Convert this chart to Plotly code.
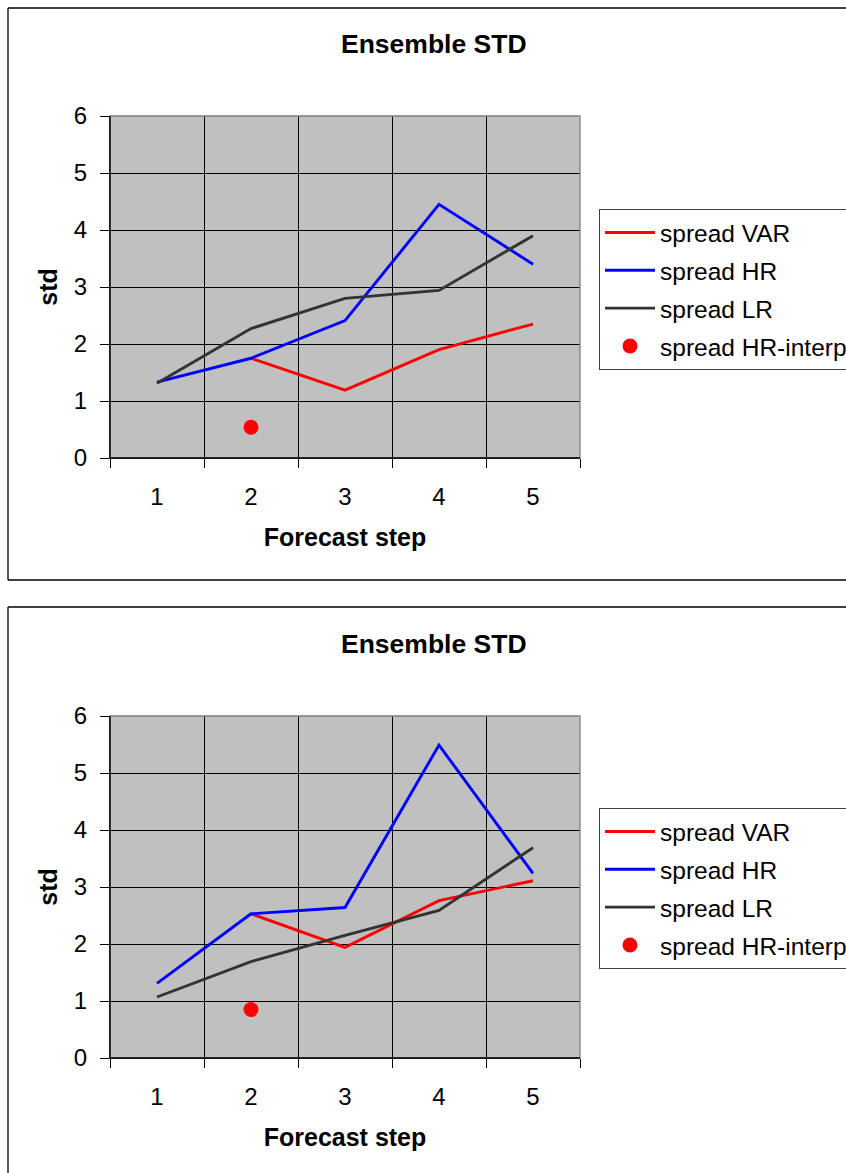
import plotly.graph_objects as go

# ---------------- data ----------------
steps = [1, 2, 3, 4, 5]
step_labels = ["1", "2", "3", "4", "5"]
std_ticks = [0, 1, 2, 3, 4, 5, 6]
series_names = ["spread VAR", "spread HR", "spread LR", "spread HR-interp"]
chart_title = "Ensemble STD"
x_title = "Forecast step"
y_title = "std"

top_var = [None, 1.75, 1.19, 1.90, 2.35]
top_hr = [1.33, 1.75, 2.41, 4.45, 3.40]
top_lr = [1.31, 2.27, 2.80, 2.94, 3.90]
top_interp = [None, 0.54, None, None, None]

bot_var = [None, 2.53, 1.94, 2.76, 3.11]
bot_hr = [1.31, 2.53, 2.64, 5.49, 3.24]
bot_lr = [1.07, 1.69, 2.15, 2.59, 3.69]
bot_interp = [None, 0.85, None, None, None]

# ---------------- layout helpers ----------------
W, H = 846, 1173
FONT = "Liberation Sans, Arial, sans-serif"


def px_x(p):
    return p / W


def px_y(p):
    return 1 - p / H


colors = ["#FF0000", "#0000FF", "#333333", "#FF0000"]

fig = go.Figure()

charts = [
    (top_var, top_hr, top_lr, top_interp, "x", "y", "legend"),
    (bot_var, bot_hr, bot_lr, bot_interp, "x2", "y2", "legend2"),
]

for var, hr, lr, interp, xa, ya, lg in charts:
    for i, (vals, name) in enumerate(zip([var, hr, lr], series_names[:3])):
        fig.add_trace(go.Scatter(
            x=steps, y=vals, name=name, mode="lines",
            line=dict(color=colors[i], width=2.9),
            xaxis=xa, yaxis=ya, legend=lg, legendgroup=f"{lg}{i}",
            connectgaps=False, hoverinfo="skip",
        ))
    fig.add_trace(go.Scatter(
        x=steps, y=interp, name=series_names[3], mode="markers",
        marker=dict(color=colors[3], size=15, symbol="circle"),
        xaxis=xa, yaxis=ya, legend=lg, legendgroup=f"{lg}3", hoverinfo="skip",
    ))

x_dom = [px_x(110), px_x(580)]
axis_common_x = dict(
    range=[0.5, 5.5], tickmode="array", tickvals=steps, ticktext=step_labels,
    ticks="outside", ticklen=0, showgrid=False, zeroline=False,
    showline=True, linecolor="black", linewidth=1,
    tickfont=dict(family=FONT, size=24, color="black"),
    ticklabelstandoff=17,
    minor=dict(tick0=0.5, dtick=1, showgrid=True, gridcolor="black",
               gridwidth=1, ticks="outside", ticklen=9, tickcolor="black"),
    title=dict(text=x_title, font=dict(family=FONT, size=25, color="black", weight="bold"),
               standoff=19),
    fixedrange=True, automargin=False,
)
axis_common_y = dict(
    range=[0, 6], tickmode="array", tickvals=std_ticks,
    ticks="outside", ticklen=9, tickcolor="black",
    showgrid=True, gridcolor="black", gridwidth=1, zeroline=False,
    showline=True, linecolor="black", linewidth=1,
    tickfont=dict(family=FONT, size=24, color="black"),
    ticklabelstandoff=8,
    title=dict(text=y_title, font=dict(family=FONT, size=25, color="black", weight="bold"),
               standoff=9),
    fixedrange=True, automargin=False,
)

legend_common = dict(
    xanchor="left", yanchor="top", x=px_x(599),
    bgcolor="white", bordercolor="#404040", borderwidth=1,
    font=dict(family=FONT, size=24.5, color="black"),
    traceorder="grouped", tracegroupgap=3, itemwidth=50,
)

shapes = []
annotations = []
border = dict(color="black", width=1.3)
for off in (0, 600):
    top_px = 8 if off == 0 else 607
    # chart outer border (left, top, and bottom for the upper chart); right side is cut off
    shapes.append(dict(type="line", xref="paper", yref="paper",
                       x0=px_x(8), x1=px_x(8), y0=px_y(top_px), y1=px_y(580 if off == 0 else 1180),
                       line=border, layer="below"))
    shapes.append(dict(type="line", xref="paper", yref="paper",
                       x0=px_x(8), x1=px_x(860), y0=px_y(top_px), y1=px_y(top_px),
                       line=border, layer="below"))
    if off == 0:
        shapes.append(dict(type="line", xref="paper", yref="paper",
                           x0=px_x(8), x1=px_x(860), y0=px_y(580), y1=px_y(580),
                           line=border, layer="below"))
    # plot-area grey border (top and right)
    shapes.append(dict(type="rect", xref="paper", yref="paper",
                       x0=px_x(110), x1=px_x(580), y0=px_y(458 + off), y1=px_y(116 + off),
                       line=dict(color="#808080", width=1.3), fillcolor="rgba(0,0,0,0)",
                       layer="above"))
    # axis lines redrawn black on left and bottom
    shapes.append(dict(type="line", xref="paper", yref="paper",
                       x0=px_x(110), x1=px_x(110), y0=px_y(458 + off), y1=px_y(116 + off),
                       line=dict(color="black", width=1.3), layer="above"))
    shapes.append(dict(type="line", xref="paper", yref="paper",
                       x0=px_x(110), x1=px_x(580), y0=px_y(458 + off), y1=px_y(458 + off),
                       line=dict(color="black", width=1.3), layer="above"))
    annotations.append(dict(text=chart_title, xref="paper", yref="paper",
                            x=px_x(434), y=px_y(44 + off), xanchor="center", yanchor="middle",
                            showarrow=False,
                            font=dict(family=FONT, size=26.5, color="black", weight="bold")))

fig.update_layout(
    width=W, height=H,
    margin=dict(l=0, r=0, t=0, b=0, autoexpand=False),
    paper_bgcolor="white", plot_bgcolor="#C0C0C0",
    showlegend=True,
    xaxis=dict(domain=x_dom, anchor="y", **axis_common_x),
    yaxis=dict(domain=[px_y(458), px_y(116)], anchor="x", **axis_common_y),
    xaxis2=dict(domain=x_dom, anchor="y2", **axis_common_x),
    yaxis2=dict(domain=[px_y(1058), px_y(716)], anchor="x2", **axis_common_y),
    legend=dict(y=px_y(209), **legend_common),
    legend2=dict(y=px_y(808), **legend_common),
    shapes=shapes,
    annotations=annotations,
)

# remove the default page margin so the figure fills the window exactly
fig.write_html(
    "out.html",
    config={"displayModeBar": False},
    post_script="document.body.style.margin='0';"
                "document.documentElement.style.overflow='hidden';",
)
